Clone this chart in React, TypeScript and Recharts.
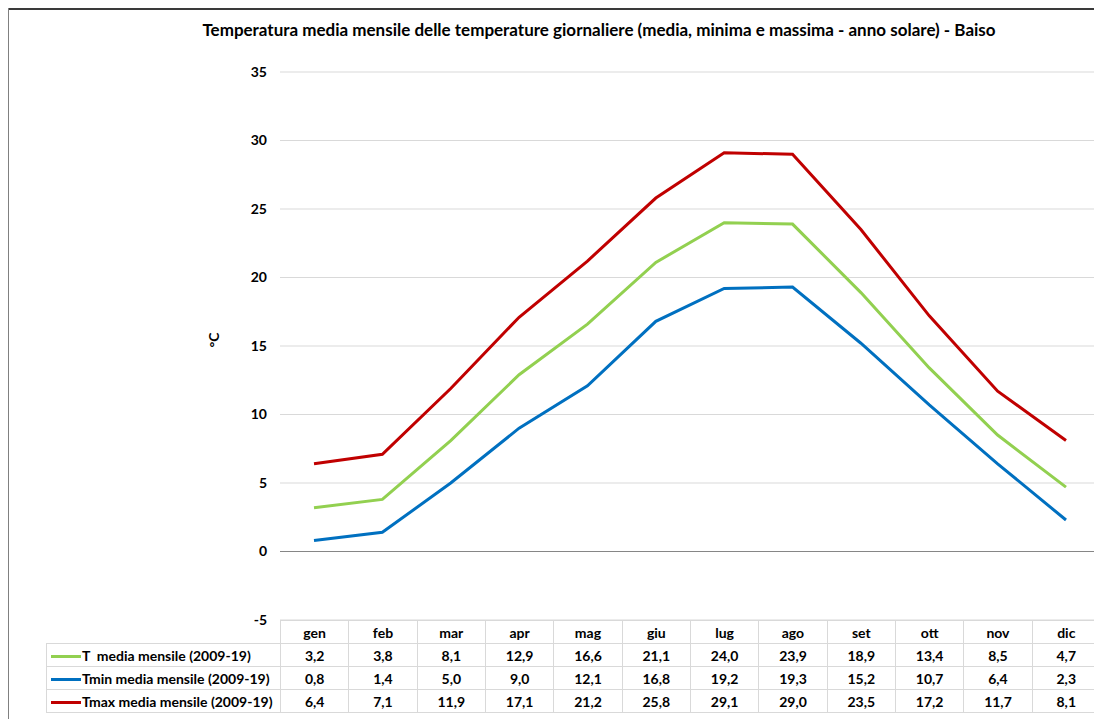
import React from "react";
import { LineChart, Line, XAxis, YAxis, CartesianGrid, ReferenceLine } from "recharts";

const months = ["gen", "feb", "mar", "apr", "mag", "giu", "lug", "ago", "set", "ott", "nov", "dic"];
const tMedia = [3.2, 3.8, 8.1, 12.9, 16.6, 21.1, 24.0, 23.9, 18.9, 13.4, 8.5, 4.7];
const tMin = [0.8, 1.4, 5.0, 9.0, 12.1, 16.8, 19.2, 19.3, 15.2, 10.7, 6.4, 2.3];
const tMax = [6.4, 7.1, 11.9, 17.1, 21.2, 25.8, 29.1, 29.0, 23.5, 17.2, 11.7, 8.1];
const yTicks = [-5, 0, 5, 10, 15, 20, 25, 30, 35];

const seriesDefs = [
  { key: "tMedia", label: "T  media mensile (2009-19)", color: "#92d050", values: tMedia },
  { key: "tMin", label: "Tmin media mensile (2009-19)", color: "#0070c0", values: tMin },
  { key: "tMax", label: "Tmax media mensile (2009-19)", color: "#c00000", values: tMax },
];

const data = months.map((m, i) => ({ month: m, tMedia: tMedia[i], tMin: tMin[i], tMax: tMax[i] }));

const FONT = "Lato, 'Open Sans', sans-serif";
const fmt = (v: number) => v.toFixed(1).replace(".", ",");

const cellBorder = "1px solid #d9d9d9";

export default function App() {
  return (
    <div style={{ position: "relative", width: 1094, height: 711, fontFamily: FONT, background: "#fff" }}>
      <div style={{ position: "absolute", left: -1, top: 0, width: 1095, height: 2, background: "#3a3a3a" }} />
      <div style={{ position: "absolute", left: -1, top: 0, width: 2, height: 711, background: "#808080" }} />
      <div
        style={{
          position: "absolute",
          left: 591,
          top: 11,
          transform: "translateX(-50%)",
          whiteSpace: "nowrap",
          fontWeight: 700,
          fontSize: 17,
          color: "#000",
        }}
      >
        Temperatura media mensile delle temperature giornaliere (media, minima e massima - anno solare) - Baiso
      </div>
      <div
        style={{
          position: "absolute",
          left: 205,
          top: 332,
          transform: "translate(-50%, -50%) rotate(-90deg)",
          fontWeight: 700,
          fontSize: 14,
          color: "#000",
          whiteSpace: "nowrap",
        }}
      >
        °C
      </div>
      <div style={{ position: "absolute", left: 0, top: 0 }}>
        <LineChart width={1094} height={711} data={data} margin={{ top: 64, right: 2, left: 0, bottom: 99 }}>
          <CartesianGrid vertical={false} stroke="#d9d9d9" />
          <XAxis dataKey="month" hide padding={{ left: 34, right: 34 }} />
          <YAxis
            width={272}
            domain={[-5, 35]}
            ticks={yTicks}
            axisLine={false}
            tickLine={false}
            tickSize={0}
            tickMargin={13}
            interval={0}
            tick={{ fill: "#000", fontSize: 14, fontWeight: 700, fontFamily: FONT }}
          />
          <ReferenceLine y={0} stroke="#868686" strokeWidth={1} />
          {seriesDefs.map((s) => (
            <Line
              key={s.key}
              dataKey={s.key}
              stroke={s.color}
              strokeWidth={3}
              dot={false}
              type="linear"
              isAnimationActive={false}
            />
          ))}
        </LineChart>
      </div>
      <table
        style={{
          position: "absolute",
          left: 38,
          top: 612,
          width: 1054,
          tableLayout: "fixed",
          borderCollapse: "collapse",
          fontSize: 14,
          fontWeight: 700,
          color: "#000",
          fontFamily: FONT,
        }}
      >
        <colgroup>
          <col style={{ width: 234 }} />
          {months.map((m) => (
            <col key={m} style={{ width: 820 / 12 }} />
          ))}
        </colgroup>
        <tbody>
          <tr style={{ height: 23 }}>
            <td style={{ border: "none", padding: 0 }} />
            {months.map((m) => (
              <td key={m} style={{ border: cellBorder, textAlign: "center", padding: 0 }}>
                {m}
              </td>
            ))}
          </tr>
          {seriesDefs.map((s) => (
            <tr key={s.key} style={{ height: 23 }}>
              <td style={{ border: cellBorder, padding: 0, whiteSpace: "pre" }}>
                <span
                  style={{
                    display: "inline-block",
                    width: 30,
                    height: 3,
                    background: s.color,
                    verticalAlign: "middle",
                    marginLeft: 4,
                    marginRight: 1,
                  }}
                />
                {s.label}
              </td>
              {s.values.map((v, i) => (
                <td key={i} style={{ border: cellBorder, textAlign: "center", padding: 0 }}>
                  {fmt(v)}
                </td>
              ))}
            </tr>
          ))}
        </tbody>
      </table>
    </div>
  );
}
